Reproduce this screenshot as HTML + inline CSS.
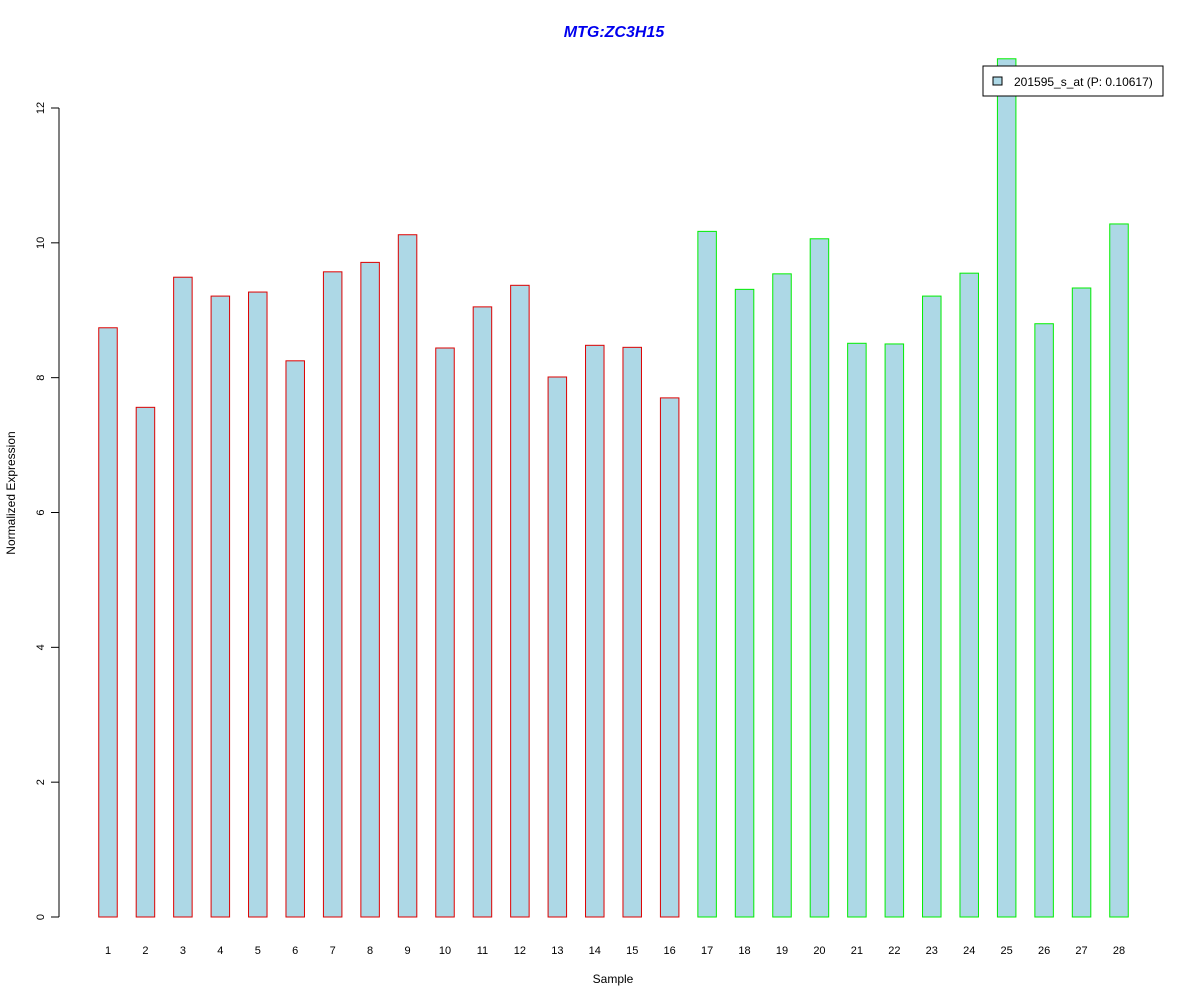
<!DOCTYPE html>
<html><head><meta charset="utf-8"><style>
html,body{margin:0;padding:0;background:#fff;}
svg{display:block;font-family:"Liberation Sans",Arial,sans-serif;}
</style></head><body>
<svg id="chart" width="1200" height="1000" viewBox="0 0 1200 1000">
<text x="614" y="37" text-anchor="middle" font-size="16" font-weight="bold" font-style="italic" fill="#0000ee">MTG:ZC3H15</text>
<text x="613" y="983" text-anchor="middle" font-size="12">Sample</text>
<text transform="translate(15,493) rotate(-90)" text-anchor="middle" font-size="12">Normalized Expression</text>
<g id="yaxis"></g>
<g id="bars"></g>
<g id="xlabels"></g>
<g>
<rect x="983" y="66" width="180" height="30" fill="#fff" stroke="#000" stroke-width="1"/>
<rect x="993" y="77" width="9" height="8" fill="#add8e6" stroke="#000"/>
<text x="1014" y="86" font-size="12">201595_s_at (P: 0.10617)</text>
</g>
</svg>
<script>
const categories = ["1","2","3","4","5","6","7","8","9","10","11","12","13","14","15","16","17","18","19","20","21","22","23","24","25","26","27","28"];
const values = [8.74,7.56,9.49,9.21,9.27,8.25,9.57,9.71,10.12,8.44,9.05,9.37,8.01,8.48,8.45,7.70,10.17,9.31,9.54,10.06,8.51,8.50,9.21,9.55,12.73,8.80,9.33,10.28];
const groups = [0,0,0,0,0,0,0,0,0,0,0,0,0,0,0,0,1,1,1,1,1,1,1,1,1,1,1,1];
const yTicks = [0,2,4,6,8,10,12];
const NS="http://www.w3.org/2000/svg";
const y = v => 917 - v*(917-108)/12;
const x = i => 108 + i*(1119-108)/27;
const bw = 18.5;
const ya=document.getElementById('yaxis');
function mk(tag,attrs,parent){const e=document.createElementNS(NS,tag);for(const k in attrs)e.setAttribute(k,attrs[k]);parent.appendChild(e);return e;}
const axl=mk('line',{x1:59,x2:59,y1:y(12),y2:y(0),stroke:'#000'},ya);


yTicks.forEach(t=>{
  const l=mk('line',{x1:51,x2:59,y1:y(t),y2:y(t),stroke:'#000'},ya);
  
  
  const tx=mk('text',{transform:`translate(44,${y(t)}) rotate(-90)`,'text-anchor':'middle','font-size':11},ya);
  tx.textContent=t;
  
  
});
const bg=document.getElementById('bars'), xl=document.getElementById('xlabels');
values.forEach((v,i)=>{
  const r=mk('rect',{x:x(i)-bw/2,y:y(v),width:bw,height:y(0)-y(v),fill:'#add8e6',stroke:groups[i]?'#00ee00':'#dd0000','stroke-width':1},bg);
  
  
  const t=mk('text',{x:x(i),y:954,'text-anchor':'middle','font-size':11},xl);
  t.textContent=categories[i];
  
  
});
</script>
</body></html>
